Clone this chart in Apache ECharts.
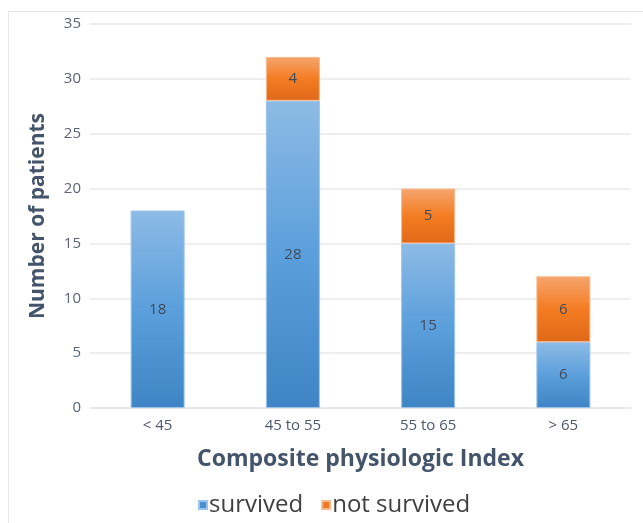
<!DOCTYPE html>
<html>
<head>
<meta charset="utf-8">
<script src="https://cdn.jsdelivr.net/npm/echarts@6/dist/echarts.min.js"></script>
<style>
html, body { margin: 0; padding: 0; background: #ffffff; }
#chart { width: 643px; height: 523px; }
</style>
</head>
<body>
<div id="chart"></div>
<script>
// Patient counts by composite physiologic index band
const categories = ['< 45', '45 to 55', '55 to 65', '> 65'];
const survived = [18, 28, 15, 6];
const notSurvived = [null, 4, 5, 6];
const yTicks = { min: 0, max: 35, interval: 5 };

const font = 'Open Sans, Noto Sans, sans-serif';

function vGrad(top, mid, bottom) {
  return new echarts.graphic.LinearGradient(0, 0, 0, 1, [
    { offset: 0, color: top },
    { offset: 0.5, color: mid },
    { offset: 1, color: bottom }
  ]);
}

const chart = echarts.init(document.getElementById('chart'), null, { renderer: 'canvas' });

chart.setOption({
  backgroundColor: '#ffffff',
  animation: false,
  graphic: [{
    type: 'rect',
    shape: { x: 8.5, y: 11.5, width: 640, height: 520 },
    style: { fill: 'none', stroke: '#e6e6e6', lineWidth: 1 },
    silent: true
  }],
  grid: { left: 90, right: 12, top: 24, bottom: 115 },
  legend: {
    data: [
      { name: 'survived', itemStyle: { color: '#4a8fd2' } },
      { name: 'not survived', itemStyle: { color: '#ef7722' } }
    ],
    left: 193,
    top: 488,
    icon: 'rect',
    itemWidth: 8,
    itemHeight: 8,
    itemGap: 18,
    textStyle: { fontFamily: font, fontSize: 24, color: '#404040', padding: [0, 0, 0, -3] }
  },
  xAxis: {
    type: 'category',
    data: categories,
    name: 'Composite physiologic Index',
    nameLocation: 'middle',
    nameGap: 40,
    nameTextStyle: { fontFamily: font, fontSize: 23, fontWeight: 'bold', color: '#44546a' },
    axisLine: { show: true, lineStyle: { color: '#e8e8ec', width: 1.5 } },
    axisTick: { show: false },
    axisLabel: { fontFamily: font, fontSize: 15, color: '#4d586a', margin: 10 }
  },
  yAxis: {
    type: 'value',
    min: yTicks.min,
    max: yTicks.max,
    interval: yTicks.interval,
    name: 'Number of patients',
    nameLocation: 'middle',
    nameGap: 41,
    nameTextStyle: { fontFamily: font, fontSize: 21, fontWeight: 'bold', color: '#44546a' },
    axisLine: { show: false },
    axisTick: { show: false },
    axisLabel: { fontFamily: font, fontSize: 15, color: '#5b6478', margin: 9 },
    splitLine: { lineStyle: { color: '#e8e8ec', width: 1.5 } }
  },
  series: [
    {
      name: 'survived',
      type: 'bar',
      stack: 'total',
      data: survived,
      barWidth: 54,
      itemStyle: {
        color: vGrad('#8dbbe5', '#5b9fdc', '#3f84c4'),
        borderColor: '#9cc4ea',
        borderWidth: 1
      },
      label: {
        show: true,
        position: 'inside',
        fontFamily: font,
        fontSize: 15,
        color: '#404a5a'
      }
    },
    {
      name: 'not survived',
      type: 'bar',
      stack: 'total',
      data: notSurvived,
      barWidth: 54,
      itemStyle: {
        color: vGrad('#f5a56e', '#f47c22', '#e0691a'),
        borderColor: '#f8b88a',
        borderWidth: 1
      },
      label: {
        show: true,
        position: 'inside',
        fontFamily: font,
        fontSize: 15,
        color: '#404a5a'
      }
    }
  ]
});
</script>
</body>
</html>
